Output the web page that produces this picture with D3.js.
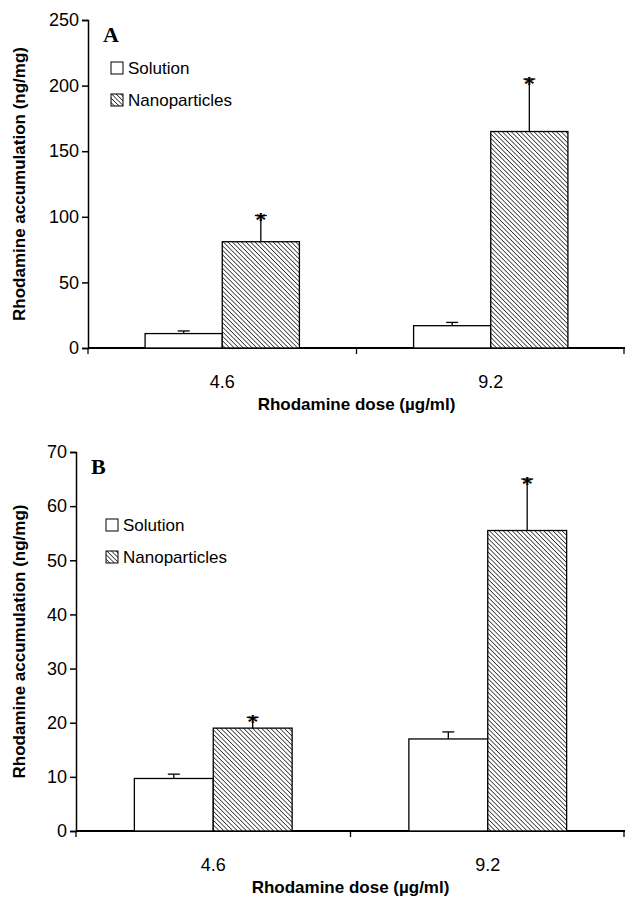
<!DOCTYPE html>
<html><head><meta charset="utf-8">
<script src="https://cdn.jsdelivr.net/npm/d3@7"></script>
<style>body{margin:0;background:#fff}</style>
</head><body>
<svg id="chart" width="625" height="905"></svg>
<script>
// Data
const doses = ["4.6", "9.2"];
const seriesNames = ["Solution", "Nanoparticles"];
const solutionA = [11, 17], solutionErrA = [2, 2.5];
const nanoA = [81, 165], nanoErrA = [20, 40];
const solutionB = [9.7, 17], solutionErrB = [0.8, 1.3];
const nanoB = [19, 55.5], nanoErrB = [2, 9.5];
const ticksA = [0, 50, 100, 150, 200, 250];
const ticksB = [0, 10, 20, 30, 40, 50, 60, 70];

const svg = d3.select("#chart");
const defs = svg.append("defs");
const pat = defs.append("pattern").attr("id", "hatch")
    .attr("patternUnits", "userSpaceOnUse").attr("width", 3.2).attr("height", 3.2)
    .attr("patternTransform", "rotate(45)");
pat.append("rect").attr("width", 3.2).attr("height", 3.2).attr("fill", "#fff");
pat.append("line").attr("x1", 0).attr("y1", 0).attr("x2", 3.2).attr("y2", 0)
    .attr("stroke", "#000").attr("stroke-width", 1.3);

function panel(p) {
    const g = svg.append("g");
    const y = d3.scaleLinear().domain([0, p.max]).range([p.bottom, p.top]);
    const x = d3.scaleBand().domain(doses).range([p.left, 625]);
    const inner = d3.scaleBand().domain(seriesNames).range([0, x.bandwidth()]).paddingOuter(0.74).paddingInner(0);

    g.append("g").attr("transform", `translate(${p.left},0)`)
        .call(d3.axisLeft(y).tickValues(p.ticks).tickSizeOuter(0).tickSize(6).tickPadding(3))
        .call(a => a.selectAll("text").attr("font-family", "Arial, Liberation Sans").attr("font-size", 18).attr("fill", "#000"))
        .call(a => a.selectAll("line,path").attr("stroke", "#000").attr("stroke-width", 1.5));

    // x axis with ticks at band edges
    g.append("line").attr("x1", p.left).attr("x2", 625).attr("y1", p.bottom).attr("y2", p.bottom)
        .attr("stroke", "#000").attr("stroke-width", 2);
    [p.left, x("9.2"), 624].forEach(t => g.append("line").attr("x1", t).attr("x2", t)
        .attr("y1", p.bottom).attr("y2", p.bottom + 6).attr("stroke", "#000").attr("stroke-width", 1.3));
    doses.forEach(d => g.append("text").attr("x", x(d) + x.bandwidth() / 2).attr("y", p.bottom + 40)
        .attr("text-anchor", "middle").attr("font-family", "Arial, Liberation Sans").attr("font-size", 18).text(d));

    const series = [
        {name: "Solution", vals: p.sol, err: p.solErr, fill: "#fff"},
        {name: "Nanoparticles", vals: p.nano, err: p.nanoErr, fill: "url(#hatch)"}
    ];
    series.forEach(s => {
        doses.forEach((d, i) => {
            const bx = x(d) + inner(s.name), bw = inner.bandwidth(), cx = bx + bw / 2;
            const top = y(s.vals[i] + s.err[i]);
            g.append("line").attr("x1", cx).attr("x2", cx).attr("y1", y(s.vals[i])).attr("y2", top).attr("stroke", "#000").attr("stroke-width", 1.3);
            g.append("line").attr("x1", cx - 6).attr("x2", cx + 6).attr("y1", top).attr("y2", top).attr("stroke", "#000").attr("stroke-width", 1.3);
            g.append("rect").attr("x", bx).attr("y", y(s.vals[i])).attr("width", bw)
                .attr("height", p.bottom - y(s.vals[i])).attr("fill", s.fill).attr("stroke", "#000").attr("stroke-width", 1.3);
            if (s.name === "Nanoparticles")
                g.append("text").attr("x", cx).attr("y", top + 12).attr("text-anchor", "middle")
                    .attr("font-family", "Liberation Serif, serif").attr("font-weight", "bold").attr("font-size", 22).text("*");
        });
    });

    g.append("text").attr("x", p.left + 15).attr("y", p.top + 22).attr("font-family", "Liberation Serif, serif")
        .attr("font-weight", "bold").attr("font-size", 22).text(p.letter);
    series.forEach((s, i) => {
        const ly = p.legendY + i * 32;
        g.append("rect").attr("x", p.legendX).attr("y", ly - 6).attr("width", 12).attr("height", 12)
            .attr("fill", s.fill).attr("stroke", "#000").attr("stroke-width", 1);
        g.append("text").attr("x", p.legendX + 17).attr("y", ly + 6).attr("font-family", "Arial, Liberation Sans")
            .attr("font-size", 17).text(s.name);
    });

    g.append("text").attr("transform", `translate(25,${(p.top + p.bottom) / 2}) rotate(-90)`)
        .attr("text-anchor", "middle").attr("font-family", "Arial, Liberation Sans").attr("font-weight", "bold")
        .attr("font-size", 17).text("Rhodamine accumulation (ng/mg)");
    g.append("text").attr("x", (p.left + 625) / 2).attr("y", p.bottom + 62).attr("text-anchor", "middle")
        .attr("font-family", "Arial, Liberation Sans").attr("font-weight", "bold").attr("font-size", 17)
        .text("Rhodamine dose (µg/ml)");
}

panel({top: 20, bottom: 348, left: 88, max: 250, ticks: ticksA, sol: solutionA, solErr: solutionErrA,
    nano: nanoA, nanoErr: nanoErrA, letter: "A", legendX: 111, legendY: 68});
panel({top: 452, bottom: 831, left: 76, max: 70, ticks: ticksB, sol: solutionB, solErr: solutionErrB,
    nano: nanoB, nanoErr: nanoErrB, letter: "B", legendX: 106, legendY: 525});
</script>
</body></html>
